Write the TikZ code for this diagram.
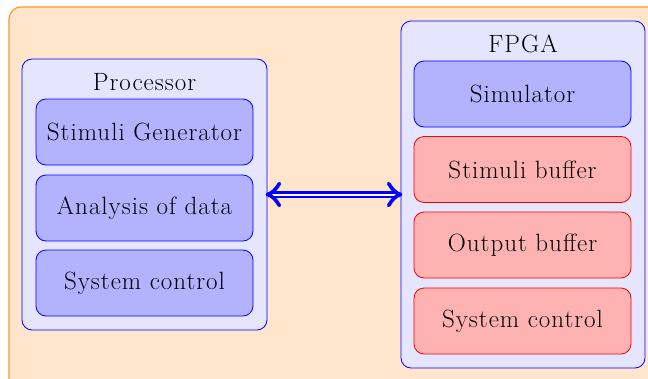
\documentclass[tikz,border=0pt]{standalone}
\usepackage{fontspec}
\newfontfamily\boxfont{Latin Modern Roman}[LetterSpace=4]
\usetikzlibrary{arrows.meta}
\begin{document}
\begin{tikzpicture}[x=1pt,y=-1pt,
  boxtext/.style={font=\boxfont\fontsize{25}{30}\selectfont},
  container/.style={draw=blue, fill=blue!10, rounded corners=10pt, line width=0.8pt,
    minimum width=#1, inner sep=0pt},
  procbox/.style={draw=blue, fill=blue!30, rounded corners=10pt, line width=0.8pt,
    minimum width=217pt, minimum height=66pt, inner sep=0pt, boxtext},
  bufbox/.style={draw=red, fill=red!30, rounded corners=10pt, line width=0.8pt,
    minimum width=217pt, minimum height=66pt, inner sep=0pt, boxtext},
  title/.style={inner sep=0pt, boxtext},
  shaft/.style={draw=blue, double, double distance=2pt, line width=2.2pt,
    shorten <=3pt, shorten >=3pt},
  barb/.style={draw=blue, line width=3.6pt, line cap=round, line join=round}]
  \useasboundingbox (0,0) rectangle (648,378);
  % outer area
  \path[draw=orange!85, fill=orange!20, rounded corners=12pt, line width=1.1pt]
    (9,7) rectangle (680,400);
  % processor side
  \node[container=245pt, minimum height=271pt] (proc) at (144.5,194.5) {};
  \node[title] (proct) at (144.5,82) {Processor};
  \node[procbox] (stim) at (144.5,132) {Stimuli Generator};
  \node[procbox] (anal) at (144.5,208) {Analysis of data};
  \node[procbox] (psys) at (144.5,283) {System control};
  % FPGA side
  \node[container=244pt, minimum height=347pt] (fpga) at (523,194.5) {};
  \node[title] (fpgat) at (523,44) {FPGA};
  \node[procbox] (sim) at (522.5,94) {Simulator};
  \node[bufbox] (sbuf) at (522.5,169.5) {Stimuli buffer};
  \node[bufbox] (obuf) at (522.5,245) {Output buffer};
  \node[bufbox] (fsys) at (522.5,321) {System control};
  % double link between the two sides, with curved barbs at both ends
  \draw[shaft] (proc.east) -- (fpga.west);
  \draw[barb] (proc.east) ++(12,-11) .. controls +(-3,5) and +(5,-1) .. ++(-12,11)
    .. controls +(5,1) and +(-3,-5) .. ++(12,11);
  \draw[barb] (fpga.west) ++(-12,-11) .. controls +(3,5) and +(-5,-1) .. ++(12,11)
    .. controls +(-5,1) and +(3,-5) .. ++(-12,11);
\end{tikzpicture}
\end{document}
